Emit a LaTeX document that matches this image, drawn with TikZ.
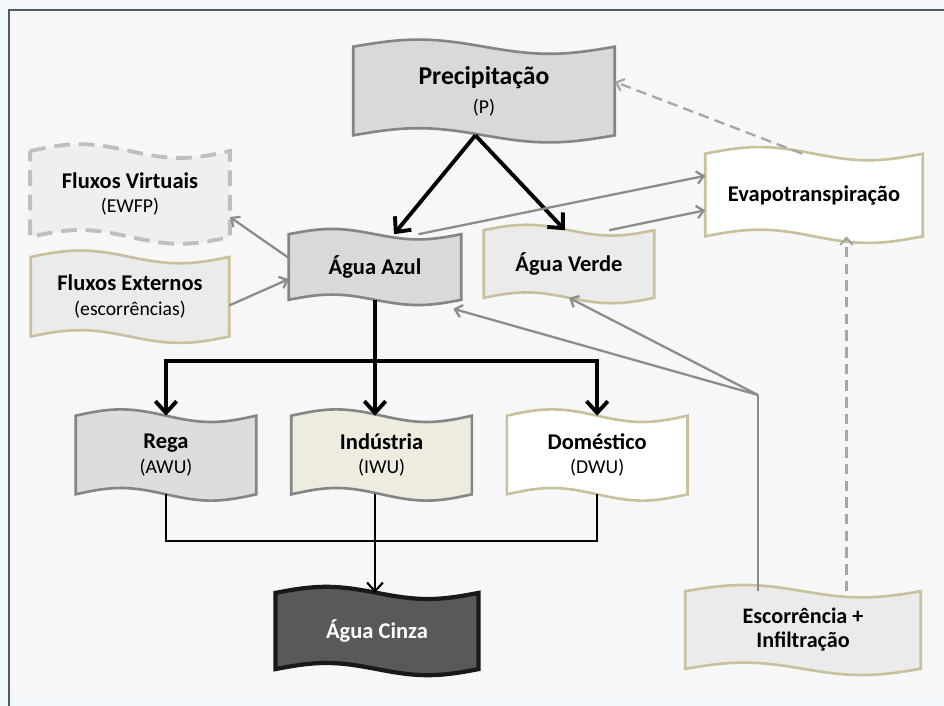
\documentclass[tikz,border=0pt]{standalone}
\usepackage{fontspec}
\setmainfont{Carlito}
\usetikzlibrary{positioning,arrows.meta}

\definecolor{outerbg}{HTML}{F2F8FA}
\definecolor{panelbg}{HTML}{F7F7F7}
\definecolor{frameline}{HTML}{4E5B6B}
\definecolor{boxgrey}{HTML}{D9D9D9}
\definecolor{boxlight}{HTML}{EBEBEB}
\definecolor{boxbeige}{HTML}{EEECE1}
\definecolor{edgegrey}{HTML}{858585}
\definecolor{edgetan}{HTML}{C9C19D}
\definecolor{virtedge}{HTML}{BFBFBF}
\definecolor{cinzafill}{HTML}{595959}
\definecolor{arrowgrey}{HTML}{8C8C8C}
\definecolor{dashgrey}{HTML}{A6A6A6}

\newcommand{\sigla}[1]{{\mdseries\fontsize{11.2}{12}\selectfont #1}}

% wavy box (punched tape look)
\makeatletter
\newdimen\wavl \newdimen\wavb \newdimen\wavr \newdimen\wavt \newdimen\wavq \newdimen\wava
\pgfdeclareshape{wavetape}{
  \inheritsavedanchors[from=rectangle]
  \inheritanchorborder[from=rectangle]
  \inheritanchor[from=rectangle]{center}
  \inheritanchor[from=rectangle]{text}
  \inheritanchor[from=rectangle]{base}
  \inheritanchor[from=rectangle]{mid}
  \inheritanchor[from=rectangle]{north}
  \inheritanchor[from=rectangle]{south}
  \inheritanchor[from=rectangle]{east}
  \inheritanchor[from=rectangle]{west}
  \inheritanchor[from=rectangle]{north east}
  \inheritanchor[from=rectangle]{north west}
  \inheritanchor[from=rectangle]{south east}
  \inheritanchor[from=rectangle]{south west}
  \backgroundpath{%
    \southwest \wavl=\pgf@x \wavb=\pgf@y
    \northeast \wavr=\pgf@x \wavt=\pgf@y
    \wavq=\wavr \advance\wavq by -\wavl \wavq=0.25\wavq
    \wava=\wavt \advance\wava by -\wavb \wava=0.08\wava
    \pgfpathmoveto{\pgfpoint{\wavl}{\wavt}}%
    \pgfpathsine{\pgfpoint{\wavq}{\wava}}%
    \pgfpathcosine{\pgfpoint{\wavq}{-\wava}}%
    \pgfpathsine{\pgfpoint{\wavq}{-\wava}}%
    \pgfpathcosine{\pgfpoint{\wavq}{\wava}}%
    \pgfpathlineto{\pgfpoint{\wavr}{\wavb}}%
    \pgfpathsine{\pgfpoint{-\wavq}{-\wava}}%
    \pgfpathcosine{\pgfpoint{-\wavq}{\wava}}%
    \pgfpathsine{\pgfpoint{-\wavq}{\wava}}%
    \pgfpathcosine{\pgfpoint{-\wavq}{-\wava}}%
    \pgfpathclose
  }
}
\makeatother

\begin{document}
\begin{tikzpicture}[x=0.02cm, y=-0.02cm, >={Straight Barb[length=0pt 3,width=0pt 5.5]},
	box/.style={shape=wavetape, line width=1.5pt, inner sep=0pt, align=center,
		font=\bfseries\fontsize{12.8}{14}\selectfont},
	greybox/.style={box, fill=boxgrey, draw=edgegrey},
	tanbox/.style={box, fill=boxlight, draw=edgetan},
	whitebox/.style={box, fill=white, draw=edgetan},
	main/.style={draw=black, line width=2.2pt},
	drain/.style={draw=black, line width=1.2pt, >={Straight Barb[length=5pt,width=9pt]}},
	flow/.style={draw=arrowgrey, line width=1.3pt},
	flowdash/.style={flow, draw=dashgrey, dash pattern=on 6pt off 3.5pt}]

	% panel
	\useasboundingbox (0,0) rectangle (944,706);
	\fill[outerbg] (0,0) rectangle (944,706);
	\fill[panelbg] (9,10) rectangle (944,694);
	\draw[frameline, line width=1.7pt] (9,706) -- (9,10) -- (944,10);

	% Nodes
	\node [greybox, minimum width=5.18cm, minimum height=1.72cm,
		font=\bfseries\fontsize{14.6}{16.5}\selectfont] (prec) at (484,91) {Precipitação\\\sigla{(P)}};
	\node [box, fill=boxlight!80!white, draw=virtedge, line width=2.2pt, dash pattern=on 9pt off 5pt,
		minimum width=3.92cm, minimum height=1.64cm] (virt) at (130,194) {Fluxos Virtuais\\\sigla{(EWFP)}};
	\node [tanbox, minimum width=3.92cm, minimum height=1.54cm] (ext) [below=0.4cm of virt] {Fluxos Externos\\\sigla{(escorrências)}};
	\node [greybox, minimum width=3.4cm, minimum height=1.26cm] (azul) at (375,267) {Água Azul};
	\node [tanbox, minimum width=3.36cm, minimum height=1.3cm] (verde) at (569,264) {Água Verde};
	\node [whitebox, minimum width=4.3cm, minimum height=1.6cm] (evapo) at (814,195) {Evapotranspiração};
	\node [greybox, fill=boxgrey!90!white, minimum width=3.56cm, minimum height=1.52cm] (rega) at (166,455) {Rega\\\sigla{(AWU)}};
	\node [greybox, fill=boxbeige, minimum width=3.56cm, minimum height=1.52cm] (ind) [right=0.7cm of rega] {Indústria\\\sigla{(IWU)}};
	\node [whitebox, minimum width=3.56cm, minimum height=1.52cm] (dom) [right=0.7cm of ind] {Doméstico\\\sigla{(DWU)}};
	\node [box, fill=cinzafill, draw=black!90, line width=2.4pt, text=white,
		minimum width=3.98cm, minimum height=1.44cm] (cinza) at (377,631) {Água Cinza};
	\node [tanbox, minimum width=4.66cm, minimum height=1.5cm,
		font=\bfseries\fontsize{12.6}{13.6}\selectfont] (escorr) at (803,630) {Escorrência +\\Infiltração};

	\coordinate (bus) at (375,361);
	\coordinate (drainmid) at (375,541);
	\coordinate (split) at (758,395);

	% Paths: precipitation and blue water uses
	\draw [main,->] (prec.-101) -- (azul.60);
	\draw [main,->] (prec.-101) -- ([xshift=-0.08cm]verde.north);
	\draw [main] (azul.south) -- (bus);
	\draw [main,->] (bus) -| (rega.north);
	\draw [main,->] (bus) -- (bus |- ind.north);
	\draw [main,->] (bus) -| (dom.north);
	\draw [drain] (rega.south) |- (drainmid) -| (dom.south);
	\draw [drain,->] (bus |- ind.south) -- (bus |- cinza.north);

	% Paths: grey flows
	\draw [flow,->] (azul.37) -- (evapo.170);
	\draw [flow,->] (verde.40) -- (evapo.188);
	\draw [flow,->] (azul.174) -- (virt.-13);
	\draw [flow,->] (ext.-5) -- (azul.188);
	\draw [flow] (split |- escorr.north) -- (split);
	\draw [flow,->] (split) -- ([xshift=-0.16cm,yshift=-0.18cm]azul.south east);
	\draw [flow,->] (split) -- (verde.south);
	\draw [flowdash,->] ([xshift=0.87cm]escorr.north) -- ([xshift=0.87cm]escorr.north |- evapo.south);
	\draw [flowdash,->] (evapo.106) -- (prec.4);

\end{tikzpicture}
\end{document}
